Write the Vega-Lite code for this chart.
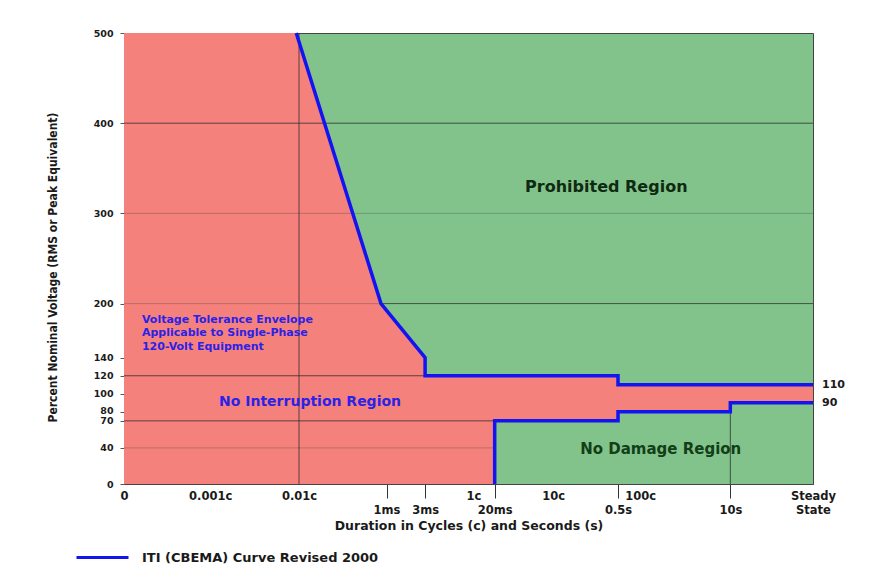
{
  "$schema": "https://vega.github.io/schema/vega-lite/v6.json",
  "width": 689,
  "height": 451,
  "autosize": {"type": "none"},
  "padding": {"left": 124, "top": 33, "right": 74, "bottom": 85},
  "background": "white",
  "config": {
    "view": {"fill": "#82C38C", "stroke": "#444444", "strokeWidth": 1},
    "font": "DejaVu Sans"
  },
  "datasets": {
    "redRegion": [
      {"pos": 0, "pct": 500},
      {"pos": 25.0, "pct": 500},
      {"pos": 37.3, "pct": 200},
      {"pos": 43.7, "pct": 140},
      {"pos": 43.7, "pct": 120},
      {"pos": 71.7, "pct": 120},
      {"pos": 71.7, "pct": 110},
      {"pos": 100, "pct": 110}
    ],
    "greenRegion": [
      {"pos": 53.8, "pct": 70},
      {"pos": 71.7, "pct": 70},
      {"pos": 71.7, "pct": 80},
      {"pos": 88.0, "pct": 80},
      {"pos": 88.0, "pct": 90},
      {"pos": 100, "pct": 90}
    ],
    "curves": [
      {"series": "ITI (CBEMA) Curve Revised 2000", "curve": "upper", "i": 0, "pos": 25.0, "pct": 500},
      {"series": "ITI (CBEMA) Curve Revised 2000", "curve": "upper", "i": 1, "pos": 37.3, "pct": 200},
      {"series": "ITI (CBEMA) Curve Revised 2000", "curve": "upper", "i": 2, "pos": 43.7, "pct": 140},
      {"series": "ITI (CBEMA) Curve Revised 2000", "curve": "upper", "i": 3, "pos": 43.7, "pct": 120},
      {"series": "ITI (CBEMA) Curve Revised 2000", "curve": "upper", "i": 4, "pos": 71.7, "pct": 120},
      {"series": "ITI (CBEMA) Curve Revised 2000", "curve": "upper", "i": 5, "pos": 71.7, "pct": 110},
      {"series": "ITI (CBEMA) Curve Revised 2000", "curve": "upper", "i": 6, "pos": 100, "pct": 110},
      {"series": "ITI (CBEMA) Curve Revised 2000", "curve": "lower", "i": 0, "pos": 53.8, "pct": 0},
      {"series": "ITI (CBEMA) Curve Revised 2000", "curve": "lower", "i": 1, "pos": 53.8, "pct": 70},
      {"series": "ITI (CBEMA) Curve Revised 2000", "curve": "lower", "i": 2, "pos": 71.7, "pct": 70},
      {"series": "ITI (CBEMA) Curve Revised 2000", "curve": "lower", "i": 3, "pos": 71.7, "pct": 80},
      {"series": "ITI (CBEMA) Curve Revised 2000", "curve": "lower", "i": 4, "pos": 88.0, "pct": 80},
      {"series": "ITI (CBEMA) Curve Revised 2000", "curve": "lower", "i": 5, "pos": 88.0, "pct": 90},
      {"series": "ITI (CBEMA) Curve Revised 2000", "curve": "lower", "i": 6, "pos": 100, "pct": 90}
    ],
    "darkH": [
      {"pct": 400, "from": 0, "to": 100},
      {"pct": 200, "from": 37.3, "to": 100},
      {"pct": 120, "from": 0, "to": 43.7},
      {"pct": 70, "from": 0, "to": 53.8}
    ],
    "lightH": [
      {"pct": 300, "from": 0, "to": 100},
      {"pct": 200, "from": 0, "to": 37.3},
      {"pct": 40, "from": 0, "to": 53.8}
    ],
    "darkV": [
      {"pos": 25.4, "from": 0, "to": 500},
      {"pos": 88.0, "from": 0, "to": 80}
    ],
    "envelopeText": [
      {"pos": 2.6, "pct": 182, "t": "Voltage Tolerance Envelope"},
      {"pos": 2.6, "pct": 167, "t": "Applicable to Single-Phase"},
      {"pos": 2.6, "pct": 152, "t": "120-Volt Equipment"}
    ],
    "blueRegion": [
      {"pos": 27.0, "pct": 91, "t": "No Interruption Region"}
    ],
    "prohibited": [
      {"pos": 70.0, "pct": 329, "t": "Prohibited Region"}
    ],
    "noDamage": [
      {"pos": 77.9, "pct": 39, "t": "No Damage Region"}
    ],
    "rightLabels": [
      {"pos": 100, "pct": 110, "t": "110"},
      {"pos": 100, "pct": 90, "t": "90"}
    ]
  },
  "layer": [
    {
      "data": {"name": "redRegion"},
      "mark": {"type": "area", "color": "#F5817C", "interpolate": "linear"},
      "encoding": {
        "x": {
          "field": "pos", "type": "quantitative",
          "scale": {"domain": [0, 100], "nice": false, "zero": false},
          "axis": {
            "values": [0, 12.5, 25.4, 38.1, 43.7, 50.7, 53.8, 62.3, 71.7, 74.9, 88, 100],
            "labelExpr": "datum.value == 0 ? '0' : datum.value == 12.5 ? '0.001c' : datum.value == 25.4 ? '0.01c' : datum.value == 38.1 ? ['', '1ms'] : datum.value == 43.7 ? ['', '3ms'] : datum.value == 50.7 ? '1c' : datum.value == 53.8 ? ['', '20ms'] : datum.value == 62.3 ? '10c' : datum.value == 71.7 ? ['', '0.5s'] : datum.value == 74.9 ? '100c' : datum.value == 88 ? ['', '10s'] : ['Steady', 'State']",
            "title": "Duration in Cycles (c) and Seconds (s)",
            "titleFont": "DejaVu Sans", "titleFontSize": 12.5, "titleFontWeight": "bold", "titleColor": "#1a1a1a",
            "titlePadding": 4,
            "labelFont": "DejaVu Sans", "labelFontSize": 11.5, "labelFontWeight": "bold", "labelColor": "#1a1a1a",
            "labelOverlap": false, "labelFlush": false,
            "labelLineHeight": 14,
            "tickSize": 14, "tickColor": "#333333",
            "tickOpacity": {"condition": {"test": "indexof([38.1, 43.7, 53.8, 71.7, 88], datum.value) >= 0", "value": 1}, "value": 0},
            "labelPadding": -8,
            "domainColor": "#444444", "grid": false
          }
        },
        "y": {
          "field": "pct", "type": "quantitative", "stack": null,
          "scale": {"domain": [0, 500], "nice": false},
          "axis": {
            "values": [0, 40, 70, 80, 100, 120, 140, 200, 300, 400, 500],
            "title": "Percent Nominal Voltage (RMS or Peak Equivalent)",
            "titleFont": "DejaVu Sans Condensed, Liberation Sans Narrow, DejaVu Sans",
            "titleFontSize": 12, "titleFontWeight": "bold", "titleColor": "#1a1a1a",
            "titleX": -72, "titleY": 234, "titleAngle": 270, "titleAlign": "center", "titleBaseline": "middle",
            "labelFont": "DejaVu Sans", "labelFontSize": 9.5, "labelFontWeight": "bold", "labelColor": "#1a1a1a",
            "labelOverlap": false,
            "labelOffset": {"condition": {"test": "datum.value == 80", "value": -1}, "value": 0},
            "tickSize": 4, "tickColor": "#555555", "labelPadding": 7,
            "domainColor": "#555555", "grid": false
          }
        }
      }
    },
    {
      "data": {"name": "greenRegion"},
      "mark": {"type": "area", "color": "#82C38C", "interpolate": "linear"},
      "encoding": {
        "x": {"field": "pos", "type": "quantitative"},
        "y": {"field": "pct", "type": "quantitative", "stack": null}
      }
    },
    {
      "data": {"name": "lightH"},
      "mark": {"type": "rule", "color": "#3a3a3a", "opacity": 0.3, "strokeWidth": 1},
      "encoding": {
        "x": {"field": "from", "type": "quantitative"},
        "x2": {"field": "to"},
        "y": {"field": "pct", "type": "quantitative"}
      }
    },
    {
      "data": {"name": "darkH"},
      "mark": {"type": "rule", "color": "#2a2a2a", "opacity": 0.75, "strokeWidth": 1},
      "encoding": {
        "x": {"field": "from", "type": "quantitative"},
        "x2": {"field": "to"},
        "y": {"field": "pct", "type": "quantitative"}
      }
    },
    {
      "data": {"name": "darkV"},
      "mark": {"type": "rule", "color": "#2a2a2a", "opacity": 0.75, "strokeWidth": 1},
      "encoding": {
        "x": {"field": "pos", "type": "quantitative"},
        "y": {"field": "from", "type": "quantitative"},
        "y2": {"field": "to"}
      }
    },
    {
      "data": {"name": "curves"},
      "mark": {"type": "line", "strokeWidth": 3.5, "interpolate": "linear", "strokeJoin": "miter"},
      "encoding": {
        "x": {"field": "pos", "type": "quantitative"},
        "y": {"field": "pct", "type": "quantitative"},
        "detail": {"field": "curve"},
        "order": {"field": "i"},
        "color": {
          "field": "series", "type": "nominal",
          "scale": {"range": ["#1414F0"]},
          "legend": {
            "title": null, "orient": "none", "legendX": -49, "legendY": 497,
            "symbolType": "stroke", "symbolSize": 2700, "symbolStrokeWidth": 3,
            "labelFont": "DejaVu Sans", "labelFontSize": 13, "labelFontWeight": "bold",
            "labelColor": "#1a1a1a", "labelOffset": 12, "labelLimit": 400
          }
        }
      }
    },
    {
      "data": {"name": "envelopeText"},
      "mark": {"type": "text", "align": "left", "baseline": "middle", "font": "DejaVu Sans", "fontSize": 11, "fontWeight": "bold", "color": "#2B22E8"},
      "encoding": {
        "x": {"field": "pos", "type": "quantitative"},
        "y": {"field": "pct", "type": "quantitative"},
        "text": {"field": "t"}
      }
    },
    {
      "data": {"name": "blueRegion"},
      "mark": {"type": "text", "align": "center", "baseline": "middle", "font": "DejaVu Sans", "fontSize": 14, "fontWeight": "bold", "color": "#2B22E8"},
      "encoding": {
        "x": {"field": "pos", "type": "quantitative"},
        "y": {"field": "pct", "type": "quantitative"},
        "text": {"field": "t"}
      }
    },
    {
      "data": {"name": "prohibited"},
      "mark": {"type": "text", "align": "center", "baseline": "middle", "font": "DejaVu Sans", "fontSize": 16, "fontWeight": "bold", "color": "#0F2A12"},
      "encoding": {
        "x": {"field": "pos", "type": "quantitative"},
        "y": {"field": "pct", "type": "quantitative"},
        "text": {"field": "t"}
      }
    },
    {
      "data": {"name": "noDamage"},
      "mark": {"type": "text", "align": "center", "baseline": "middle", "font": "DejaVu Sans", "fontSize": 15, "fontWeight": "bold", "color": "#123F18"},
      "encoding": {
        "x": {"field": "pos", "type": "quantitative"},
        "y": {"field": "pct", "type": "quantitative"},
        "text": {"field": "t"}
      }
    },
    {
      "data": {"name": "rightLabels"},
      "mark": {"type": "text", "align": "left", "baseline": "middle", "dx": 9, "font": "DejaVu Sans", "fontSize": 11, "fontWeight": "bold", "color": "#1a1a1a"},
      "encoding": {
        "x": {"field": "pos", "type": "quantitative"},
        "y": {"field": "pct", "type": "quantitative"},
        "text": {"field": "t"}
      }
    }
  ]
}
